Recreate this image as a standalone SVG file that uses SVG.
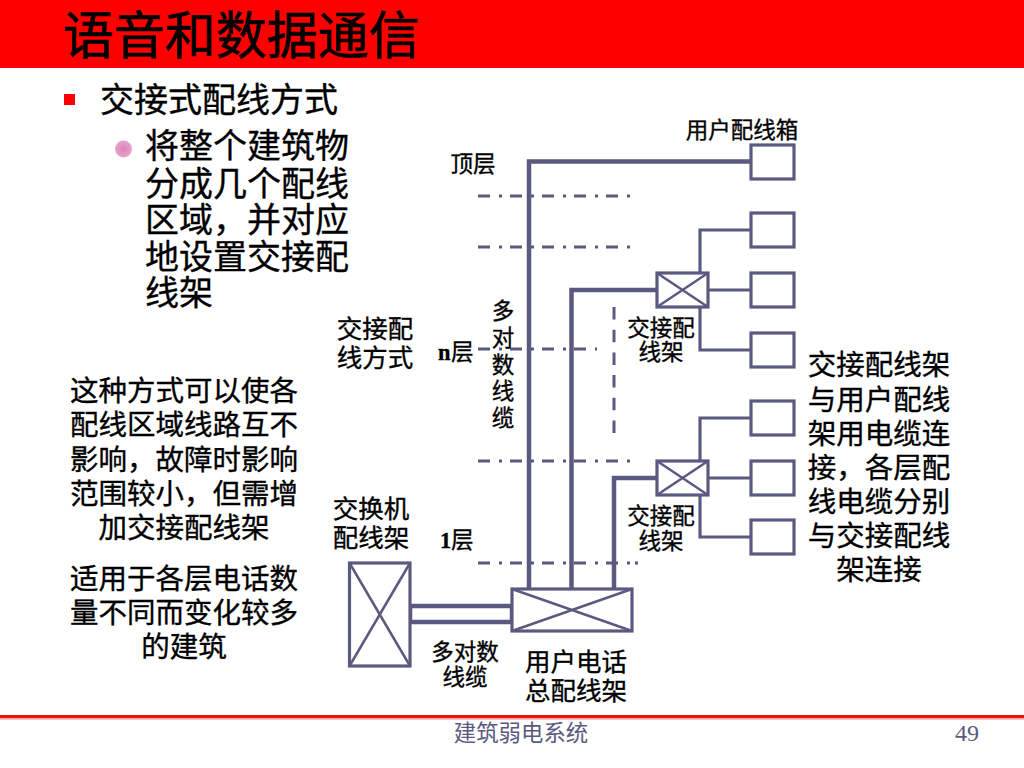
<svg xmlns="http://www.w3.org/2000/svg" width="1024" height="768" viewBox="0 0 1024 768">
<style>
text{font-family:"Noto Sans CJK SC","Noto Sans CJK TC",sans-serif;fill:#000;stroke:#000;stroke-width:.35px}
.m{text-anchor:middle}
.b{fill:#fff;stroke:#5a5a80;stroke-width:3.2}
.x{fill:none;stroke:#5a5a80;stroke-width:2.5}
.t{fill:none;stroke:#5a5a80;stroke-width:4.500}
.n{fill:none;stroke:#5a5a80;stroke-width:3.200}
.d{fill:none;stroke:#5a5a80;stroke-width:3;stroke-dasharray:12 9 3 8}
.v{fill:none;stroke:#5a5a80;stroke-width:3;stroke-dasharray:12.500 10.200}
.l{font-size:22.5px}
.k{font-size:25.5px}
.p{font-size:28.5px}
.s{font-size:34px}
.f{font-size:22.4px;fill:#5a5a80;stroke:none}
</style>
<defs><radialGradient id="g" cx="50%" cy="50%" r="55%"><stop offset="0" stop-color="#de80b8"/><stop offset="1" stop-color="#e8a8cc"/></radialGradient></defs>
<rect width="1024" height="68" fill="#f00"/>
<text x="63" y="54" style="font-size:51px;stroke-width:.7px">语音和数据通信</text>
<rect x="64" y="94" width="11" height="11" fill="#f00"/>
<text x="100" y="112" class="s">交接式配线方式</text>
<circle cx="123.500" cy="149" r="8.500" fill="url(#g)"/>
<g class="s"><text x="145" y="158">将整个建筑物</text><text x="145" y="196">分成几个配线</text><text x="145" y="232">区域，并对应</text><text x="145" y="269">地设置交接配</text><text x="145" y="305">线架</text></g>
<g class="p m"><text x="184" y="401">这种方式可以使各</text><text x="184" y="435">配线区域线路互不</text><text x="184" y="470">影响，故障时影响</text><text x="184" y="504">范围较小，但需增</text><text x="184" y="538">加交接配线架</text><text x="184" y="589">适用于各层电话数</text><text x="184" y="623">量不同而变化较多</text><text x="184" y="657">的建筑</text></g>
<g id="connectors">
<path class="d" d="M478 196H630M478 247H630M478 349H597M478 461H630M478 563H630"/>
<path class="n" d="M635 563H638"/>
<path class="v" d="M614 307V433"/>
<path class="t" d="M751 161.500H529V590M657 290H571.500V590M657 478H614V590"/>
<path class="n" d="M751 230H700V273M708 290H751M700 307V350H751M751 418H700V461M708 478H751M700 495V537H751"/>
<rect class="t" x="410" y="606" width="102" height="16"/>
</g>
<g id="box1"><rect class="b" x="751" y="145" width="43" height="34"/></g>
<g id="box2"><rect class="b" x="751" y="213" width="43" height="34"/></g>
<g id="box3"><rect class="b" x="751" y="273" width="43" height="34"/></g>
<g id="box4"><rect class="b" x="751" y="333" width="43" height="34"/></g>
<g id="box5"><rect class="b" x="751" y="401" width="43" height="34"/></g>
<g id="box6"><rect class="b" x="751" y="461" width="43" height="34"/></g>
<g id="box7"><rect class="b" x="751" y="520" width="43" height="34"/></g>
<g id="xframe-n"><rect class="b" x="657" y="273" width="51" height="34"/><path class="x" d="M657 273L708 307M708 273L657 307"/></g>
<g id="xframe-1"><rect class="b" x="657" y="461" width="51" height="34"/><path class="x" d="M657 461L708 495M708 461L657 495"/></g>
<g id="main-frame"><rect class="b" x="512" y="589" width="120" height="42"/><path class="x" d="M512 589L632 631M632 589L512 631"/></g>
<g id="switch-frame"><rect class="b" x="349.500" y="563" width="60.500" height="103"/><path class="x" d="M349.500 563L410 666M410 563L349.500 666"/></g>
<g class="l">
<text x="742" y="138" class="m">用户配线箱</text>
<text x="473" y="172" class="m">顶层</text>
<text x="503" y="319" class="m">多</text><text x="503" y="346" class="m">对</text><text x="503" y="373" class="m">数</text><text x="503" y="399" class="m">线</text><text x="503" y="426" class="m">缆</text>
<text x="661" y="336" class="m">交接配</text><text x="661" y="360" class="m">线架</text>
<text x="661" y="524" class="m">交接配</text><text x="661" y="549" class="m">线架</text>
<text x="465" y="660" class="m">多对数</text><text x="465" y="685" class="m">线缆</text>
<text x="438" y="360" font-weight="bold" style="font-family:'Liberation Serif',serif">n</text><text x="451" y="360">层</text>
<text x="440" y="548" font-weight="bold" style="font-family:'Liberation Serif',serif">1</text><text x="451" y="548">层</text>
</g>
<g class="k m">
<text x="375" y="338">交接配</text><text x="375" y="367">线方式</text>
<text x="371" y="518">交换机</text><text x="371" y="547">配线架</text>
<text x="576" y="671">用户电话</text><text x="576" y="700">总配线架</text>
</g>
<g class="p m"><text x="879" y="375">交接配线架</text><text x="879" y="410">与用户配线</text><text x="879" y="444">架用电缆连</text><text x="879" y="478">接，各层配</text><text x="879" y="512">线电缆分别</text><text x="879" y="546">与交接配线</text><text x="879" y="580">架连接</text></g>
<rect y="715" width="1024" height="3.500" fill="#e81010"/>
<rect y="718.500" width="1024" height="1.500" fill="#f8c0c0"/>
<text x="521" y="741" class="m f">建筑弱电系统</text>
<text x="967" y="741" class="m f" style="font-size:24px;font-family:'Liberation Serif',serif">49</text>
</svg>
